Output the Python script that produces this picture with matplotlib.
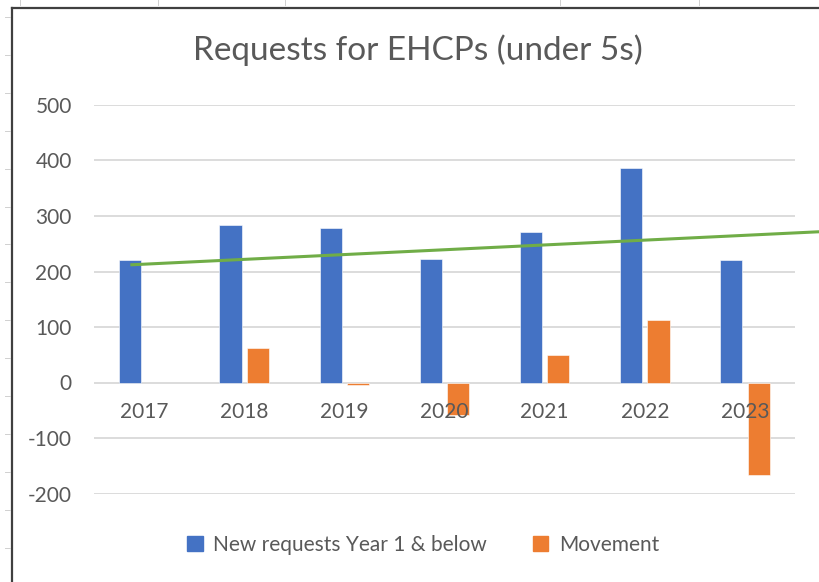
import numpy as np
import matplotlib.pyplot as plt
from matplotlib.lines import Line2D
from matplotlib.patches import Patch

# Data
years = ['2017', '2018', '2019', '2020', '2021', '2022', '2023']
new_requests = [221, 284, 279, 222, 272, 386, 220]
movement = [np.nan, 62, -5, -58, 49, 113, -167]
trend_ends = [212, 264]  # linear trendline value at 2017 and 2023

blue = '#4472C4'
orange = '#ED7D31'
green = '#70AD47'
grey = '#595959'

plt.rcParams['font.family'] = ['Lato', 'DejaVu Sans']
plt.rcParams['axes.unicode_minus'] = False

W, H = 820, 582
fig = plt.figure(figsize=(W / 100, H / 100), dpi=100)
ax = fig.add_axes([94 / W, 1 - 493.5 / H, (795 - 94) / W, (493.5 - 105) / H])

x = np.arange(len(years))
width = 0.22
off = 0.137
ax.bar(x - off, new_requests, width, color=blue, edgecolor='white', linewidth=0.4, zorder=3)
ax.bar(x + off, movement, width, color=orange, edgecolor='white', linewidth=0.4, zorder=3)

# trendline, extended forward past the plot area like Excel's forecast
slope = (trend_ends[1] - trend_ends[0]) / (len(years) - 1)
tx = np.array([0, len(years)]) - off
ty = trend_ends[0] + slope * (tx + off)
ax.plot(tx, ty, color=green, lw=2.2, zorder=4, clip_on=False, solid_capstyle='butt')

ax.set_xlim(-0.5, len(years) - 0.5)
ax.set_ylim(-200, 500)
ax.set_yticks(range(-200, 501, 100))
ax.set_xticks(x, years)
ax.grid(axis='y', color='#d9d9d9', lw=1.3, zorder=0)
for s in ax.spines.values():
    s.set_visible(False)
ax.spines['bottom'].set_position(('data', 0))
ax.tick_params(axis='both', length=0, labelsize=15, labelcolor=grey)
ax.tick_params(axis='y', pad=16)
ax.tick_params(axis='x', pad=14)
ax.xaxis.set_zorder(5)  # year labels sit on top of the bars, as in Excel

fig.text(418 / W, 1 - 50 / H, 'Requests for EHCPs (under 5s)', ha='center', va='center',
         fontsize=24, color=grey)

handles = [Patch(color=blue), Patch(color=orange)]
fig.legend(handles, ['New requests Year 1 & below', 'Movement'], loc='center',
           bbox_to_anchor=(423 / W, 1 - 545 / H), ncol=2, frameon=False, fontsize=15,
           labelcolor=grey, handlelength=0.75, handleheight=0.75, handletextpad=0.5,
           columnspacing=2.2)

# chart border and worksheet cell marks from the screenshot
fig.add_artist(Line2D([12 / W, 12 / W], [0, 1 - 8 / H], color='#404040', lw=1.6))
fig.add_artist(Line2D([12 / W, 1], [1 - 8 / H, 1 - 8 / H], color='#404040', lw=1.6))
for px in [20, 158, 285, 560, 699]:
    fig.add_artist(Line2D([px / W, px / W], [1, 1 - 5 / H], color='#d0d0d0', lw=0.7))
for py in np.arange(17, 582, 37.9):
    fig.add_artist(Line2D([5 / W, 10 / W], [1 - py / H, 1 - py / H], color='#d0d0d0', lw=0.7))

fig.savefig('out.png', dpi=100)
